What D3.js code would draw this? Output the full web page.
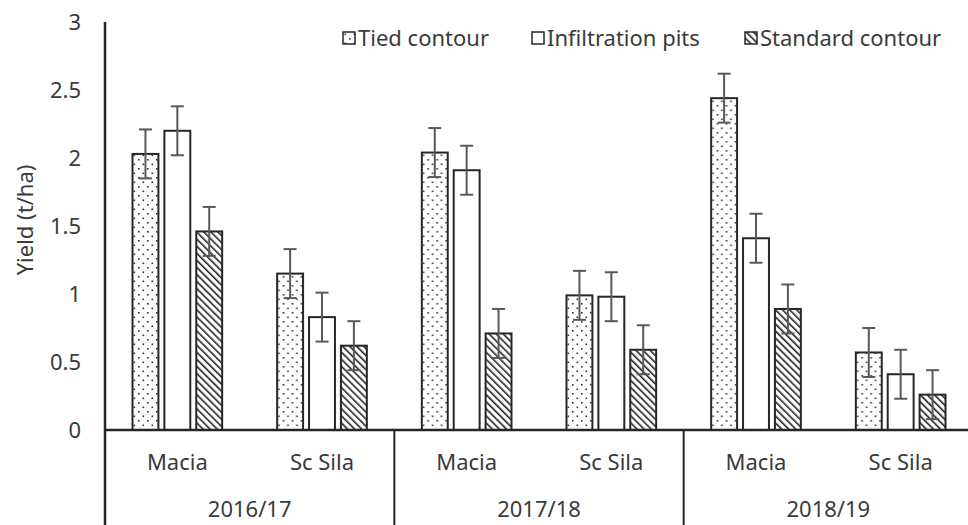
<!DOCTYPE html>
<html>
<head>
<meta charset="utf-8">
<script src="https://cdn.jsdelivr.net/npm/d3@7"></script>
<style>
  body { margin: 0; background: #fff; }
  text { font-family: "Noto Sans", "Open Sans", sans-serif; fill: #3a3a3a; font-size: 22px; }
</style>
</head>
<body>
<div id="chart"></div>
<script>
var width = 968,
    height = 525;

// data
var years = ["2016/17", "2017/18", "2018/19"];
var varieties = ["Macia", "Sc Sila"];
var series = ["Tied contour", "Infiltration pits", "Standard contour"];
var tied = [2.03, 1.15, 2.04, 0.99, 2.44, 0.57];
var pits = [2.20, 0.83, 1.91, 0.98, 1.41, 0.41];
var standard = [1.46, 0.62, 0.71, 0.59, 0.89, 0.26];
var errors = [0.18, 0.18, 0.18, 0.18, 0.18, 0.18];
var yTicks = [0, 0.5, 1, 1.5, 2, 2.5, 3];

var plotLeft = 105, plotRight = 973, plotTop = 22, plotBottom = 430;

var cats = [];
years.forEach(function(y) {
  varieties.forEach(function(v) { cats.push(y + "|" + v); });
});

var rows = cats.map(function(c, i) {
  return { cat: c, values: [tied[i], pits[i], standard[i]], err: errors[i] };
});

var x = d3.scaleBand().domain(cats).range([plotLeft, plotRight]).padding(0);
var xYear = d3.scaleBand().domain(years).range([plotLeft, plotRight]).padding(0);
var inner = d3.scaleBand().domain(series)
    .range([27.5, x.bandwidth() - 27.5])
    .paddingInner(0.1875).paddingOuter(0);
var y = d3.scaleLinear().domain([0, 3]).range([plotBottom, plotTop]);

var svg = d3.select("#chart").append("svg")
    .attr("width", width)
    .attr("height", height);

var defs = svg.append("defs");

// dotted fill
var dots = defs.append("pattern")
    .attr("id", "dots")
    .attr("patternUnits", "userSpaceOnUse")
    .attr("width", 9).attr("height", 9);
dots.append("rect").attr("width", 9).attr("height", 9).attr("fill", "#fff");
dots.append("rect").attr("x", 1.5).attr("y", 1.5).attr("width", 1.6).attr("height", 1.6).attr("fill", "#333");
dots.append("rect").attr("x", 6).attr("y", 6).attr("width", 1.6).attr("height", 1.6).attr("fill", "#333");

// diagonal hatch
var hatch = defs.append("pattern")
    .attr("id", "hatch")
    .attr("patternUnits", "userSpaceOnUse")
    .attr("width", 5).attr("height", 5)
    .attr("patternTransform", "rotate(-45)");
hatch.append("rect").attr("width", 5).attr("height", 5).attr("fill", "#fff");
hatch.append("line")
    .attr("x1", 0).attr("y1", 0).attr("x2", 0).attr("y2", 5)
    .attr("stroke", "#222").attr("stroke-width", 3.2);

var fills = ["url(#dots)", "#fff", "url(#hatch)"];

// bars
var groups = svg.selectAll("g.cat")
    .data(rows)
  .enter().append("g")
    .attr("class", "cat")
    .attr("transform", function(d) { return "translate(" + x(d.cat) + ",0)"; });

groups.selectAll("rect")
    .data(function(d) { return d.values.map(function(v, i) { return { s: series[i], v: v, i: i }; }); })
  .enter().append("rect")
    .attr("x", function(d) { return inner(d.s); })
    .attr("y", function(d) { return y(d.v); })
    .attr("width", inner.bandwidth())
    .attr("height", function(d) { return y(0) - y(d.v); })
    .attr("fill", function(d) { return fills[d.i]; })
    .attr("stroke", "#262626")
    .attr("stroke-width", 2);

// error bars
groups.each(function(row) {
  var g = d3.select(this);
  row.values.forEach(function(v, i) {
    var cx = inner(series[i]) + inner.bandwidth() / 2;
    var eb = g.append("g").attr("stroke", "#595959").attr("stroke-width", 2);
    eb.append("line").attr("x1", cx).attr("x2", cx)
      .attr("y1", y(v - row.err)).attr("y2", y(v + row.err));
    eb.append("line").attr("x1", cx - 6.5).attr("x2", cx + 6.5)
      .attr("y1", y(v + row.err)).attr("y2", y(v + row.err));
    eb.append("line").attr("x1", cx - 6.5).attr("x2", cx + 6.5)
      .attr("y1", y(v - row.err)).attr("y2", y(v - row.err));
  });
});

// y axis
svg.append("line")
    .attr("x1", plotLeft).attr("x2", plotLeft)
    .attr("y1", plotTop).attr("y2", height)
    .attr("stroke", "#262626").attr("stroke-width", 2.5);

svg.selectAll("text.ytick")
    .data(yTicks)
  .enter().append("text")
    .attr("class", "ytick")
    .attr("x", 81)
    .attr("y", function(d) { return y(d); })
    .attr("dy", "0.35em")
    .attr("text-anchor", "end")
    .text(function(d) { return d; });

svg.append("text")
    .attr("transform", "translate(25,220)rotate(-90)")
    .attr("text-anchor", "middle")
    .attr("dy", "0.35em")
    .text("Yield (t/ha)");

// x axis
svg.append("line")
    .attr("x1", plotLeft).attr("x2", width)
    .attr("y1", plotBottom).attr("y2", plotBottom)
    .attr("stroke", "#262626").attr("stroke-width", 2.5);

svg.selectAll("line.sep")
    .data(years.slice(1))
  .enter().append("line")
    .attr("class", "sep")
    .attr("x1", function(d) { return xYear(d); })
    .attr("x2", function(d) { return xYear(d); })
    .attr("y1", plotBottom).attr("y2", height)
    .attr("stroke", "#262626").attr("stroke-width", 2);

svg.selectAll("text.cat")
    .data(cats)
  .enter().append("text")
    .attr("class", "cat")
    .attr("x", function(d) { return x(d) + x.bandwidth() / 2; })
    .attr("y", 462)
    .attr("dy", "0.35em")
    .attr("text-anchor", "middle")
    .text(function(d) { return d.split("|")[1]; });

svg.selectAll("text.year")
    .data(years)
  .enter().append("text")
    .attr("class", "year")
    .attr("x", function(d) { return xYear(d) + xYear.bandwidth() / 2; })
    .attr("y", 509)
    .attr("dy", "0.35em")
    .attr("text-anchor", "middle")
    .text(function(d) { return d; });

// legend
var legendX = [343, 532, 745];
var legend = svg.selectAll("g.legend")
    .data(series)
  .enter().append("g")
    .attr("class", "legend")
    .attr("transform", function(d, i) { return "translate(" + legendX[i] + ",32)"; });

legend.append("rect")
    .attr("width", 12).attr("height", 12)
    .attr("fill", function(d, i) { return fills[i]; })
    .attr("stroke", "#262626").attr("stroke-width", 1.5);

legend.append("text")
    .attr("x", 15)
    .attr("y", 6)
    .attr("dy", "0.35em")
    .text(function(d) { return d; });
</script>
</body>
</html>
